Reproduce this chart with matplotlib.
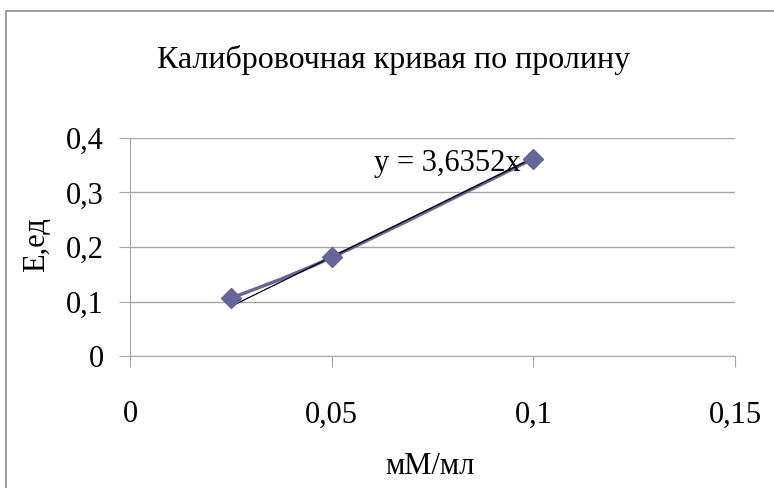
import numpy as np
import matplotlib.pyplot as plt
from matplotlib.path import Path
from matplotlib.patches import PathPatch
from matplotlib.lines import Line2D

plt.rcParams['font.family'] = ['Liberation Serif', 'DejaVu Serif']

# калибровка по пролину
conc = [0.025, 0.05, 0.1]
absorb = [0.106, 0.181, 0.362]
slope = 3.6352

xticks = [0, 0.05, 0.1, 0.15]
yticks = [0, 0.1, 0.2, 0.3, 0.4]

line_col = '#666699'
grid_col = '#a6a6a6'


def fmt(v):
    return ('%g' % v).replace('.', ',')


def smooth_path(xs, ys):
    # сглаженная линия (кривые Безье через точки)
    pts = np.column_stack([xs, ys])
    n = len(pts)
    verts = [pts[0]]
    codes = [Path.MOVETO]
    for i in range(n - 1):
        p_prev = pts[i - 1] if i > 0 else pts[i]
        p_next = pts[i + 2] if i + 2 < n else pts[i + 1]
        c1 = pts[i] + (pts[i + 1] - p_prev) / 6
        c2 = pts[i + 1] - (p_next - pts[i]) / 6
        verts += [c1, c2, pts[i + 1]]
        codes += [Path.CURVE4] * 3
    return Path(verts, codes)


fig = plt.figure(figsize=(7.74, 4.88), dpi=100)
# рамка области диаграммы (левая и верхняя стороны)
fx, fy = 5.5 / 774, 1 - 10.5 / 488
fig.lines.append(Line2D([fx, fx, 1.0], [0.0, fy, fy], transform=fig.transFigure,
                        color='#8c8c8c', linewidth=1.2))

ax = fig.add_axes([130 / 774, 1 - 356 / 488, 605 / 774, 218 / 488])
ax.set_xlim(0, 0.15)
ax.set_ylim(0, 0.4)

ax.set_xticks(xticks)
ax.set_xticklabels([fmt(v) for v in xticks])
ax.set_yticks(yticks)
ax.set_yticklabels([fmt(v) for v in yticks])
ax.tick_params(axis='both', labelsize=22, color=grid_col, length=8)
ax.tick_params(axis='x', pad=24)
ax.tick_params(axis='y', pad=11)

for s in ['top', 'right']:
    ax.spines[s].set_visible(False)
for s in ['left', 'bottom']:
    ax.spines[s].set_color(grid_col)
ax.grid(axis='y', color=grid_col, linewidth=1)
ax.set_axisbelow(True)

# линия тренда
tx = np.array([conc[0], conc[-1]])
ax.plot(tx, slope * tx, color='black', linewidth=0.9, zorder=3)

ax.add_patch(PathPatch(smooth_path(conc, absorb), facecolor='none',
                       edgecolor=line_col, linewidth=2.5, zorder=2))
ax.plot(conc, absorb, linestyle='none', marker='D', markersize=10,
        color=line_col, zorder=4)

ax.text(0.0605, 0.3535, 'y = 3,6352x', fontsize=22, va='center', ha='left')

fig.text(394 / 774, 1 - 60 / 488, 'Калибровочная кривая по пролину',
         fontsize=23, ha='center', va='center')
fig.text(430 / 774, 1 - 466 / 488, 'мМ/мл', fontsize=22, ha='center', va='center')
fig.text(37 / 774, 1 - 245 / 488, 'Е,ед', fontsize=22, ha='center',
         va='center', rotation=90)

fig.savefig('out.png', dpi=100)
